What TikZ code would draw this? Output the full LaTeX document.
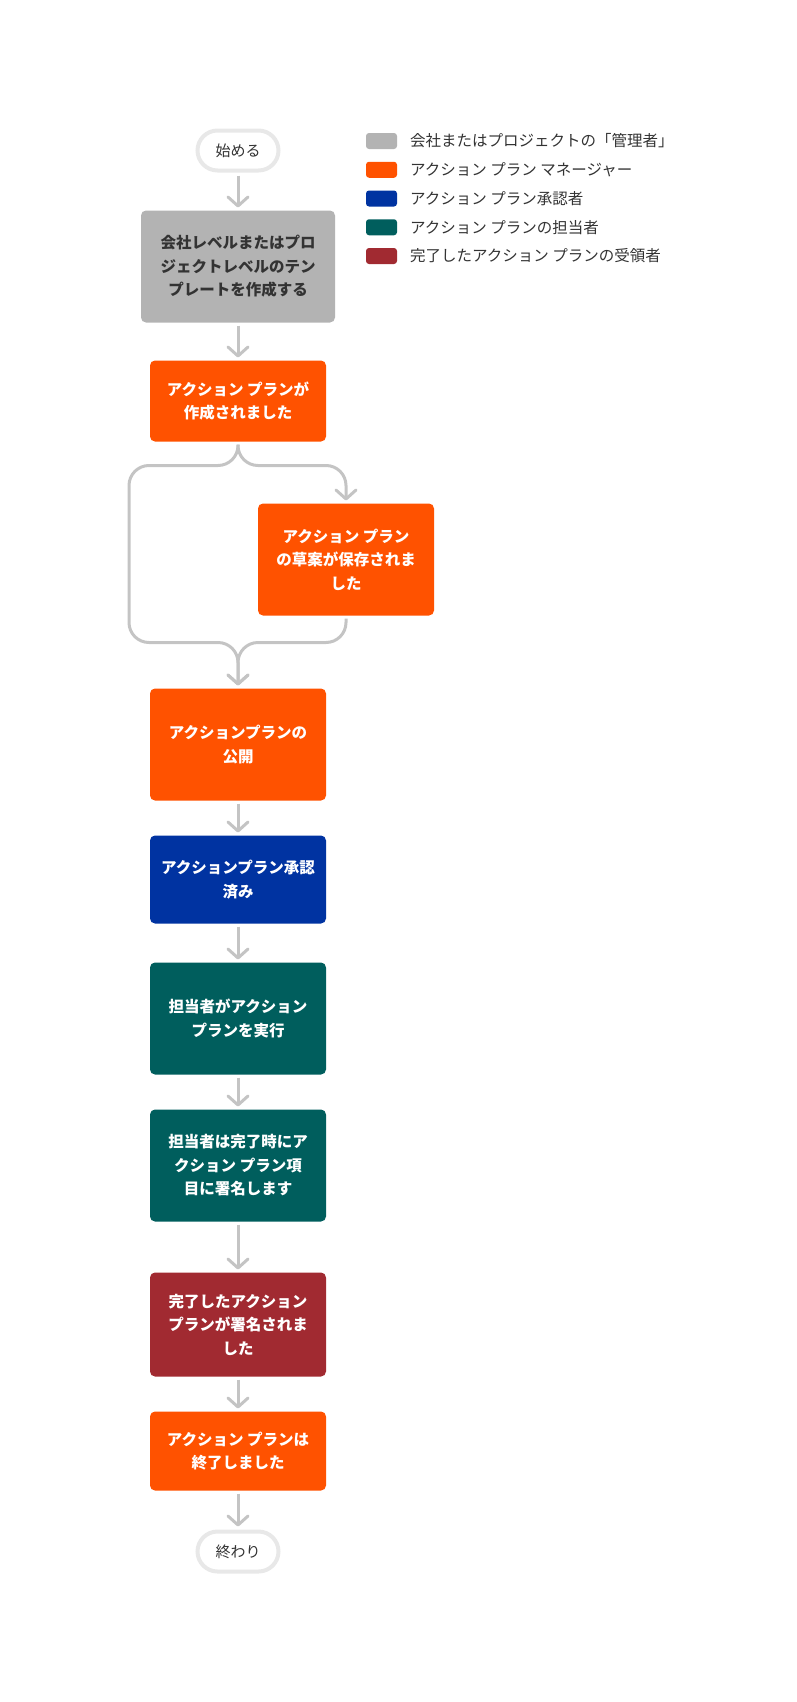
\documentclass[tikz,border=0pt]{standalone}
\usepackage{fontspec}
\setmainfont{Noto Sans CJK JP}
\usetikzlibrary{positioning, arrows.meta}
\definecolor{adminGray}{HTML}{B3B3B3}
\definecolor{managerOrange}{HTML}{FF5200}
\definecolor{approverBlue}{HTML}{0033A1}
\definecolor{assigneeTeal}{HTML}{005E5D}
\definecolor{recipientRed}{HTML}{A12A31}
\definecolor{lineGray}{HTML}{C4C4C4}
\definecolor{rimGray}{HTML}{E8E8E8}
\definecolor{labelGray}{HTML}{333333}
\tikzset{
      flow box/.style={
		fill=#1,
		text=white,
		font=\bfseries\fontsize{15.5}{23.5}\selectfont,
		align=center,
		rounded corners=5pt,
		minimum width=176pt,
		inner sep=0pt,
		outer sep=0pt,
	  },
      terminal/.style={
		draw=rimGray,
		line width=4pt,
		fill=white,
		text=labelGray,
		font=\fontsize{15}{18}\selectfont,
		rounded corners=20pt,
		minimum width=81pt,
		minimum height=40pt,
	  },
      swatch/.style={
		fill=#1,
		rounded corners=3pt,
		minimum width=31pt,
		minimum height=16pt,
		inner sep=0pt,
		outer sep=0pt,
	  },
      legend text/.style={
		text=labelGray,
		font=\fontsize{15.5}{18}\selectfont,
		inner sep=0pt,
		anchor=west,
	  },
      flow arrow/.style={
		draw=lineGray,
		line width=3pt,
		-{Straight Barb[length=9pt, width=20pt, round]},
		shorten <=3pt,
		shorten >=3pt,
	  },
  	}

\begin{document}
\begin{tikzpicture}[x=1pt, y=1pt]
    \useasboundingbox (0,0) rectangle (796,-1702);
    % legend
    \node [swatch=adminGray] (k1) at (381.5,-141) {};
    \node [swatch=managerOrange, below=12.75pt of k1] (k2) {};
    \node [swatch=approverBlue, below=12.75pt of k2] (k3) {};
    \node [swatch=assigneeTeal, below=12.75pt of k3] (k4) {};
    \node [swatch=recipientRed, below=12.75pt of k4] (k5) {};
    \node [legend text, right=13pt of k1] (l1) {会社またはプロジェクトの「管理者」};
    \node [legend text, right=13pt of k2] (l2) {アクション プラン マネージャー};
    \node [legend text, right=13pt of k3] (l3) {アクション プラン承認者};
    \node [legend text, right=13pt of k4] (l4) {アクション プランの担当者};
    \node [legend text, right=13pt of k5] (l5) {完了したアクション プランの受領者};
    % flow
    \node [terminal] (start) at (238,-150.5) {始める};
    \node [flow box=adminGray, text=labelGray, minimum width=194pt, minimum height=112pt, below=38pt of start] (tmpl) {会社レベルまたはプロ\\ジェクトレベルのテン\\プレートを作成する};
    \node [flow box=managerOrange, minimum height=81pt, below=38pt of tmpl] (b1) {アクション プランが\\作成されました};
    \node [flow box=managerOrange, minimum height=112pt, below=62pt of b1, xshift=108pt] (b2) {アクション プラン\\の草案が保存されま\\した};
    \node [flow box=managerOrange, minimum height=112pt, below=247pt of b1] (b3) {アクションプランの\\公開};
    \node [flow box=approverBlue, minimum height=88pt, below=35pt of b3] (b4) {アクションプラン承認\\済み};
    \node [flow box=assigneeTeal, minimum height=112pt, below=39pt of b4] (b5) {担当者がアクション\\プランを実行};
    \node [flow box=assigneeTeal, minimum height=112pt, below=35pt of b5] (b6) {担当者は完了時にア\\クション プラン項\\目に署名します};
    \node [flow box=recipientRed, minimum height=104pt, below=51pt of b6] (b7) {完了したアクション\\プランが署名されま\\した};
    \node [flow box=managerOrange, minimum height=79pt, below=35pt of b7] (b8) {アクション プランは\\終了しました};
    \node [terminal, below=39pt of b8] (end) {終わり};
    % connectors
    \draw [flow arrow] (start) -- (tmpl);
    \draw [flow arrow] (tmpl) -- (b1);
    \draw [flow arrow, rounded corners=20pt] (b1.south) -- ++(0,-24) -| (b2.north);
    \draw [flow arrow, rounded corners=20pt] (b1.south) -- ++(0,-24) -- ++(-109,0) -- ++(0,-177) -- ++(109,0) -- (b3.north);
    \draw [flow arrow, rounded corners=20pt] (b2.south) -- ++(0,-27) -| (b3.north);
    \draw [flow arrow] (b3) -- (b4);
    \draw [flow arrow] (b4) -- (b5);
    \draw [flow arrow] (b5) -- (b6);
    \draw [flow arrow] (b6) -- (b7);
    \draw [flow arrow] (b7) -- (b8);
    \draw [flow arrow] (b8) -- (end);
\end{tikzpicture}
\end{document}
